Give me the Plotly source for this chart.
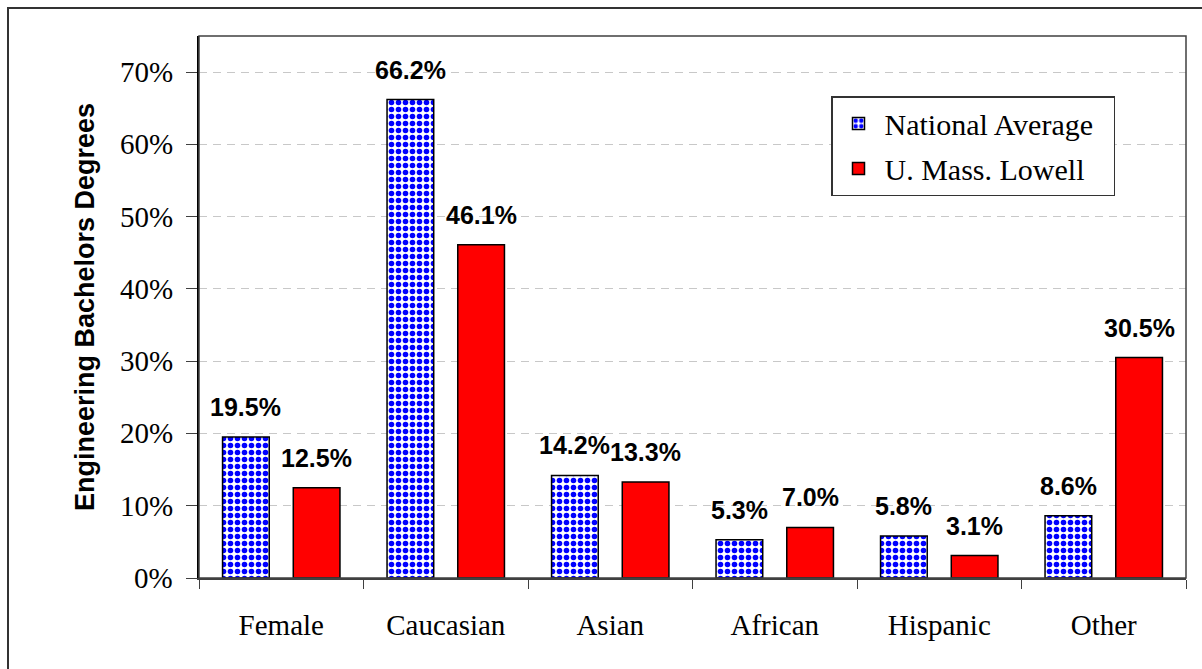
import plotly.graph_objects as go

# Share of engineering bachelor's degrees by group (percent)
categories = ["Female", "Caucasian", "Asian", "African", "Hispanic", "Other"]
national_avg = [19.5, 66.2, 14.2, 5.3, 5.8, 8.6]
umass_lowell = [12.5, 46.1, 13.3, 7.0, 3.1, 30.5]
series_names = ["National Average", "U. Mass. Lowell"]
y_title = "Engineering Bachelors Degrees"
y_ticks = [0, 10, 20, 30, 40, 50, 60, 70]
y_tick_labels = [f"{t}%" for t in y_ticks]

W, H = 1202, 669
M = dict(l=199, r=16, t=36, b=91)
BARGAP = 0.14
GROUPGAP = 0.34

SERIF = "Liberation Serif"
SANS = "Liberation Sans"
PAD = "\u00a0\u00a0"

fig = go.Figure()
fig.add_trace(go.Bar(
    name=series_names[0] + PAD, x=categories, y=national_avg, legendgroup="nat",
    marker=dict(
        color="#FFFFFF",
        line=dict(color="#000000", width=1.5),
        pattern=dict(shape=".", fgcolor="#0000FF", bgcolor="#FFFFFF",
                     size=7, solidity=0.5, fillmode="replace"),
    ),
))
fig.add_trace(go.Bar(
    name=series_names[1] + PAD, x=categories, y=umass_lowell, legendgroup="uml",
    marker=dict(color="#FF0000", line=dict(color="#000000", width=1.5)),
))

# value labels above each bar, offset to the bar's slot in its group
plot_w = W - M["l"] - M["r"]
plot_h = H - M["t"] - M["b"]
cat_w = plot_w / len(categories)
slot_w = cat_w * (1 - BARGAP) / 2
for k, series in enumerate([national_avg, umass_lowell]):
    shift = (k - 0.5) * slot_w
    for c, v in zip(categories, series):
        fig.add_annotation(
            x=c, y=v, xref="x", yref="y", text=f"{v:.1f}%",
            showarrow=False, xanchor="center", yanchor="bottom",
            xshift=shift, yshift=14,
            font=dict(family=SANS, size=25, color="#000000", weight="bold"),
        )

# y-axis tick labels, right-aligned left of the tick marks
for t, lab in zip(y_ticks, y_tick_labels):
    fig.add_annotation(
        x=0, y=t, xref="x domain", yref="y", text=lab,
        showarrow=False, xanchor="right", yanchor="middle", xshift=-24,
        font=dict(family=SERIF, size=29, color="#000000"),
    )

# rotated y-axis title
fig.add_annotation(
    x=(85 - M["l"]) / plot_w, y=0.5, xref="paper", yref="paper",
    text=y_title, textangle=-90, showarrow=False,
    xanchor="center", yanchor="middle",
    font=dict(family=SANS, size=27, color="#000000", weight="bold"),
)

# plot area frame
fig.add_shape(type="rect", xref="x domain", yref="y domain",
              x0=0, x1=1, y0=0, y1=1, line=dict(color="#404040", width=1.5),
              layer="above")
# outer chart frame
fig.add_shape(type="rect", xref="paper", yref="paper",
              x0=-(M["l"] - 8) / plot_w, x1=(W + 20 - M["l"]) / plot_w,
              y0=-(M["b"] + 20) / plot_h, y1=1 + (M["t"] - 8) / plot_h,
              line=dict(color="#333333", width=2))

fig.update_layout(
    width=W, height=H, margin=M,
    font=dict(family=SERIF, size=29, color="#000000"),
    paper_bgcolor="#FFFFFF", plot_bgcolor="#FFFFFF",
    barmode="group", bargap=BARGAP, bargroupgap=GROUPGAP,
    showlegend=True,
    legend=dict(
        x=(831 - M["l"]) / plot_w, y=(578 - 96) / plot_h,
        xanchor="left", yanchor="top", tracegroupgap=3, itemwidth=42,
        bgcolor="#FFFFFF", bordercolor="#333333", borderwidth=1.5,
        font=dict(family=SERIF, size=30, color="#000000"),
    ),
)
fig.update_xaxes(
    type="category", showline=True, linecolor="#404040", linewidth=1.5,
    ticks="outside", tickson="boundaries", ticklen=9, tickcolor="#404040",
    tickfont=dict(family=SERIF, size=29, color="#000000"),
    ticklabelstandoff=20, showgrid=False,
)
fig.update_yaxes(
    range=[0, 75], tickmode="array", tickvals=y_ticks,
    showticklabels=False,
    showline=True, linecolor="#000000", linewidth=1.5,
    ticks="outside", ticklen=11, tickcolor="#404040",
    showgrid=True, gridcolor="#C8C8C8", griddash="8px,6px", gridwidth=1,
    zeroline=False,
)

fig.write_html("out.html")
